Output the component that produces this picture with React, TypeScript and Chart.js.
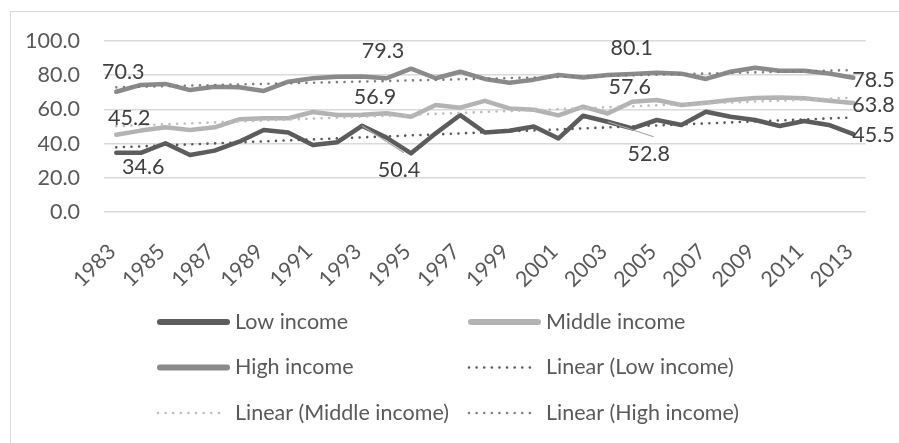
import React, { useEffect, useRef } from 'react';
import { Chart, registerables } from 'chart.js';

Chart.register(...registerables);

// ---------- data ----------
const years = [
  '1983', '1984', '1985', '1986', '1987', '1988', '1989', '1990', '1991', '1992',
  '1993', '1994', '1995', '1996', '1997', '1998', '1999', '2000', '2001', '2002',
  '2003', '2004', '2005', '2006', '2007', '2008', '2009', '2010', '2011', '2012', '2013',
];

const lowIncome = [
  34.6, 34.6, 40.2, 33.3, 35.9, 41.1, 48.0, 46.5, 39.2, 40.8,
  50.4, 43.5, 34.3, 46.0, 56.7, 46.5, 47.5, 50.0, 43.0, 56.3,
  52.8, 48.9, 53.8, 50.9, 58.6, 55.7, 53.8, 50.3, 53.2, 50.9, 45.5,
];

const middleIncome = [
  45.2, 47.6, 49.5, 48.0, 49.5, 54.2, 54.8, 54.8, 58.5, 56.7,
  56.9, 57.7, 55.7, 62.6, 61.0, 65.0, 60.6, 59.8, 56.5, 61.6,
  57.6, 64.5, 65.5, 62.6, 63.9, 65.5, 66.7, 66.9, 66.5, 65.1, 63.8,
];

const highIncome = [
  70.3, 74.3, 74.9, 71.3, 73.3, 72.9, 70.8, 76.2, 78.2, 79.1,
  79.3, 78.2, 83.8, 78.2, 82.0, 77.8, 75.6, 77.4, 80.1, 78.6,
  80.1, 80.7, 81.5, 80.9, 77.8, 82.0, 84.4, 82.6, 82.6, 81.0, 78.5,
];

// linear trendlines: value at first and at last year
const lowTrendEnds = [37.8, 55.3];
const middleTrendEnds = [50.2, 66.8];
const highTrendEnds = [72.9, 83.0];

const yTickValues = [0, 20, 40, 60, 80, 100];
const labeledYears = ['1983', '1993', '2003', '2013'];

const seriesNames = ['Low income', 'Middle income', 'High income'];
const trendNames = ['Linear (Low income)', 'Linear (Middle income)', 'Linear (High income)'];

// ---------- styles ----------
const FONT = 'Lato, "Open Sans", "DejaVu Sans", sans-serif';
const FONT_SIZE = 21.5;
const TEXT = '#595959';
const LABEL_TEXT = '#404040';
const GRID = '#d9d9d9';
const seriesColors = ['#5c5c5c', '#b3b3b3', '#8a8a8a'];
const trendColors = ['#595959', '#bdbdbd', '#7f7f7f'];

// data-label placement relative to the point (dx, dy, leader line), per series, per labeled year
const labelPlacement: Array<Array<[number, number, boolean]>> = [
  [[27, 14, false], [37, 44, true], [41, 32, true], [-1, 1, false]],
  [[13, -17, false], [13, -18, false], [22, -26, false], [-1, 2, false]],
  [[7, -20, false], [21, -25, false], [24, -27, false], [-1, 2, false]],
];

function trendData(ends: number[]) {
  const out: (number | null)[] = years.map(() => null);
  out[0] = ends[0];
  out[years.length - 1] = ends[1];
  return out;
}

const overlayPlugin = {
  id: 'overlay',
  afterDatasetsDraw(chart: any) {
    const ctx = chart.ctx as CanvasRenderingContext2D;
    ctx.save();
    // data labels
    for (let di = 0; di < 3; di++) {
      const meta = chart.getDatasetMeta(di);
      const values = chart.data.datasets[di].data;
      labeledYears.forEach((yr, k) => {
        const idx = years.indexOf(yr);
        const el = meta.data[idx];
        if (!el) return;
        const [dx, dy, leader] = labelPlacement[di][k];
        const last = k === labeledYears.length - 1;
        const cx = el.x + dx;
        const cy = el.y + dy;
        if (leader) {
          ctx.strokeStyle = '#a6a6a6';
          ctx.lineWidth = 1.2;
          ctx.setLineDash([]);
          ctx.beginPath();
          ctx.moveTo(el.x, el.y);
          ctx.lineTo(cx + 5, cy - 17);
          ctx.stroke();
        }
        ctx.font = `${FONT_SIZE}px ${FONT}`;
        ctx.fillStyle = LABEL_TEXT;
        ctx.textBaseline = 'middle';
        ctx.textAlign = last ? 'left' : 'center';
        ctx.fillText(Number(values[idx]).toFixed(1), cx, cy);
      });
    }
    // legend (2 columns x 3 rows)
    const ds = chart.data.datasets;
    ds.forEach((d: any, i: number) => {
      const col = i % 2;
      const row = Math.floor(i / 2);
      const x0 = col === 0 ? 157 : 468;
      const y = 322 + row * 45.5;
      ctx.strokeStyle = d.borderColor;
      ctx.lineCap = 'round';
      if (d.isTrend) {
        ctx.lineWidth = 2.6;
        ctx.setLineDash([0.01, 7.6]);
        ctx.beginPath();
        ctx.moveTo(x0 + 1, y);
        ctx.lineTo(x0 + 69, y);
        ctx.stroke();
      } else {
        ctx.lineWidth = 6;
        ctx.setLineDash([]);
        ctx.beginPath();
        ctx.moveTo(x0 + 3, y);
        ctx.lineTo(x0 + 70, y);
        ctx.stroke();
      }
      ctx.setLineDash([]);
      ctx.font = `${FONT_SIZE}px ${FONT}`;
      ctx.fillStyle = TEXT;
      ctx.textAlign = 'left';
      ctx.textBaseline = 'middle';
      ctx.fillText(d.label, x0 + 78, y);
    });
    ctx.restore();
  },
};

export default function App() {
  const ref = useRef<HTMLCanvasElement | null>(null);

  useEffect(() => {
    if (!ref.current) return;
    const solid = (label: string, data: number[], color: string) => ({
      label,
      data,
      borderColor: color,
      backgroundColor: color,
      borderWidth: 4.5,
      pointRadius: 0,
      borderJoinStyle: 'round' as const,
      borderCapStyle: 'round' as const,
      tension: 0,
      order: 1,
      isTrend: false,
    });
    const dotted = (label: string, ends: number[], color: string) => ({
      label,
      data: trendData(ends),
      borderColor: color,
      backgroundColor: color,
      borderWidth: 2.6,
      borderDash: [0.01, 7.6],
      borderCapStyle: 'round' as const,
      pointRadius: 0,
      spanGaps: true,
      order: 0,
      isTrend: true,
    });

    const chart = new Chart(ref.current, {
      type: 'line',
      data: {
        labels: years,
        datasets: [
          solid(seriesNames[0], lowIncome, seriesColors[0]),
          solid(seriesNames[1], middleIncome, seriesColors[1]),
          solid(seriesNames[2], highIncome, seriesColors[2]),
          dotted(trendNames[0], lowTrendEnds, trendColors[0]),
          dotted(trendNames[1], middleTrendEnds, trendColors[1]),
          dotted(trendNames[2], highTrendEnds, trendColors[2]),
        ] as any,
      },
      options: {
        responsive: false,
        animation: false,
        devicePixelRatio: 1,
        layout: { padding: { top: 41, left: 0, right: 26, bottom: 150 } },
        plugins: {
          legend: { display: false },
          tooltip: { enabled: false },
        },
        scales: {
          x: {
            type: 'category',
            offset: true,
            grid: { display: false, drawTicks: false },
            border: { display: false },
            ticks: {
              autoSkip: false,
              minRotation: 45,
              maxRotation: 45,
              padding: 27,
              labelOffset: -4,
              color: TEXT,
              font: { family: FONT, size: FONT_SIZE },
              callback: (_v: any, i: number) => (i % 2 === 0 ? years[i] : ''),
            },
            afterFit: (s: any) => {
              s.height = 81;
            },
          },
          y: {
            min: 0,
            max: 100,
            afterBuildTicks: (s: any) => {
              s.ticks = yTickValues.map((v) => ({ value: v }));
            },
            grid: { color: GRID, lineWidth: 1.5, drawTicks: false },
            border: { display: false },
            ticks: {
              padding: 24,
              color: TEXT,
              font: { family: FONT, size: FONT_SIZE },
              callback: (v: any) => Number(v).toFixed(1),
            },
            afterFit: (s: any) => {
              s.width = 104;
            },
          },
        },
      },
      plugins: [overlayPlugin],
    });
    return () => chart.destroy();
  }, []);

  return (
    <div style={{ position: 'absolute', left: 0, top: 0, width: 899, height: 443, background: '#fff', overflow: 'hidden' }}>
      <div
        style={{
          position: 'absolute',
          left: 10,
          top: 11,
          width: 960,
          height: 500,
          borderLeft: '1px solid #d9d9d9',
          borderTop: '1px solid #d9d9d9',
        }}
      />
      <canvas ref={ref} width={899} height={443} style={{ position: 'absolute', left: 0, top: 0, width: 899, height: 443 }} />
    </div>
  );
}
